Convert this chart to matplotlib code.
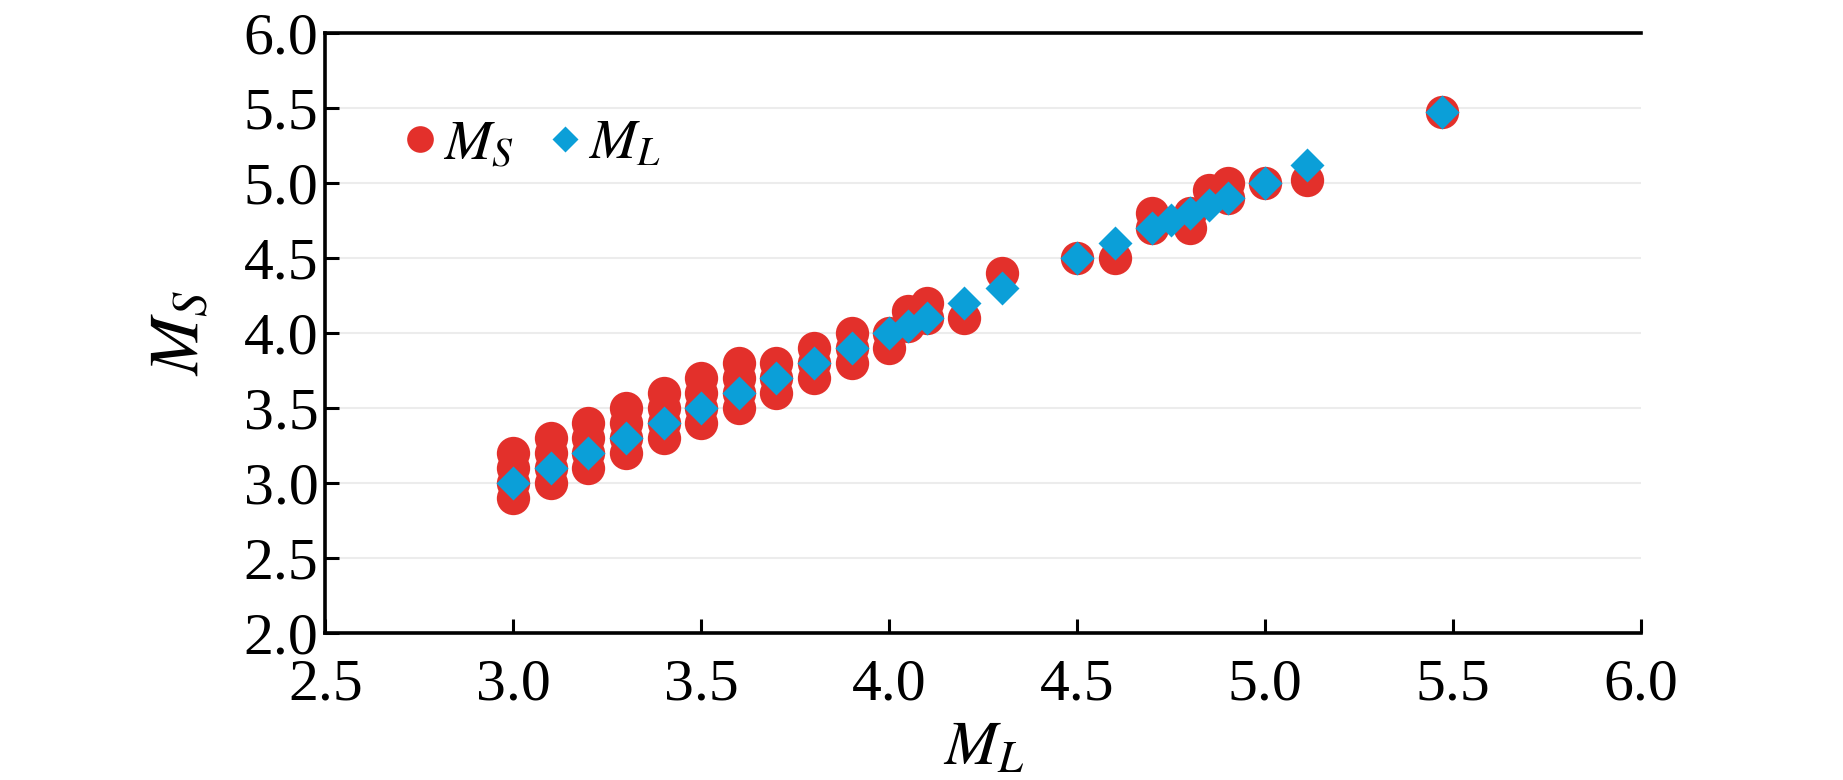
import matplotlib
matplotlib.use("Agg")
import matplotlib.pyplot as plt

# M_S points (red circles)
ms_x = [3.0, 3.0, 3.0, 3.0,
        3.1, 3.1, 3.1, 3.1,
        3.2, 3.2, 3.2, 3.2,
        3.3, 3.3, 3.3, 3.3,
        3.4, 3.4, 3.4, 3.4,
        3.5, 3.5, 3.5, 3.5,
        3.6, 3.6, 3.6, 3.6,
        3.7, 3.7, 3.7,
        3.8, 3.8, 3.8,
        3.9, 3.9, 3.9,
        4.0, 4.0, 4.05, 4.05, 4.1, 4.1,
        4.2, 4.3, 4.5, 4.6,
        4.7, 4.7, 4.8, 4.8, 4.85, 4.9, 4.9,
        5.0, 5.11, 5.47]
ms_y = [2.9, 3.0, 3.1, 3.2,
        3.0, 3.1, 3.2, 3.3,
        3.1, 3.2, 3.3, 3.4,
        3.2, 3.3, 3.4, 3.5,
        3.3, 3.4, 3.5, 3.6,
        3.4, 3.5, 3.6, 3.7,
        3.5, 3.6, 3.7, 3.8,
        3.6, 3.7, 3.8,
        3.7, 3.8, 3.9,
        3.8, 3.9, 4.0,
        3.9, 4.0, 4.05, 4.15, 4.1, 4.2,
        4.1, 4.4, 4.5, 4.5,
        4.7, 4.8, 4.7, 4.8, 4.95, 4.9, 5.0,
        5.0, 5.02, 5.47]

# M_L points (blue diamonds)
ml_x = [3.0, 3.1, 3.2, 3.3, 3.4, 3.5, 3.6, 3.7, 3.8, 3.9, 4.0, 4.05, 4.1,
        4.2, 4.3, 4.5, 4.6, 4.7, 4.75, 4.8, 4.85, 4.9, 5.0, 5.11, 5.47]
ml_y = [3.0, 3.1, 3.2, 3.3, 3.4, 3.5, 3.6, 3.7, 3.8, 3.9, 4.0, 4.05, 4.1,
        4.2, 4.3, 4.5, 4.6, 4.7, 4.75, 4.8, 4.85, 4.9, 5.0, 5.12, 5.47]

x_ticks = [2.5, 3.0, 3.5, 4.0, 4.5, 5.0, 5.5, 6.0]
y_ticks = [2.0, 2.5, 3.0, 3.5, 4.0, 4.5, 5.0, 5.5, 6.0]

RED = "#e3302b"
BLUE = "#0b9fd8"

plt.rcParams.update({
    "font.family": ["Liberation Serif", "DejaVu Serif"],
    "mathtext.fontset": "stix",
    "font.size": 36,
})

fig = plt.figure(figsize=(18.43, 7.8), dpi=100)
ax = fig.add_axes([0.1765, 0.188, 0.714, 0.77])

ax.plot(ms_x, ms_y, "o", color=RED, ms=24, mec="none", label=r"$M_S$", zorder=3)
ax.plot(ml_x, ml_y, "D", color=BLUE, ms=17, mec="none", label=r"$M_L$", zorder=4)

ax.set_xlim(2.5, 6.0)
ax.set_ylim(2.0, 6.0)
ax.set_xticks(x_ticks)
ax.set_yticks(y_ticks)
ax.set_xticklabels([f"{v:.1f}" for v in x_ticks])
ax.set_yticklabels([f"{v:.1f}" for v in y_ticks])
ax.tick_params(direction="in", length=10, width=2.2, labelsize=43, pad=5)
ax.tick_params(axis="x", pad=18)

ax.spines["right"].set_visible(False)
for s in ("left", "bottom", "top"):
    ax.spines[s].set_linewidth(2.6)

ax.yaxis.grid(True, color="#ececec", lw=1.5, zorder=0)
ax.set_axisbelow(True)

ax.set_xlabel(r"$M_L$", fontsize=46, labelpad=6)
ax.set_ylabel(r"$M_S$", fontsize=50, labelpad=22)

leg = ax.legend(loc="upper left", bbox_to_anchor=(0.042, 0.895), ncol=2,
                frameon=False, markerscale=0.8, handlelength=0.6,
                handletextpad=0.1, columnspacing=0.6, fontsize=41,
                borderaxespad=0)

fig.savefig("out.png", dpi=100)
